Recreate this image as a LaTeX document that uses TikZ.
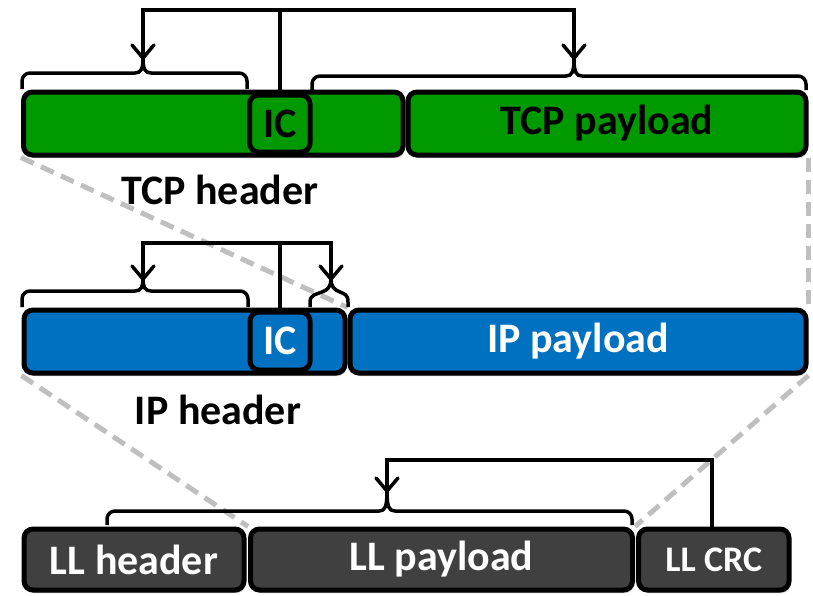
\documentclass[tikz,border=0pt]{standalone}
\usepackage{fontspec}
\setmainfont{Carlito}
\usetikzlibrary{arrows.meta,shadows}
\definecolor{tcpgreen}{HTML}{009900}
\definecolor{ipblue}{HTML}{0070C0}
\definecolor{lldark}{HTML}{404040}
\definecolor{dashgray}{HTML}{BFBFBF}
\pgfdeclarearrow{
  name = Vtip,
  parameters = {\the\pgfarrowlength,\the\pgfarrowwidth},
  setup code = {
    \pgfarrowssettipend{0pt}
    \pgfarrowssetlineend{-1pt}
    \pgfarrowssavethe\pgfarrowlength
    \pgfarrowssavethe\pgfarrowwidth
    \pgfarrowsupperhullpoint{-\pgfarrowlength}{.5\pgfarrowwidth}
    \pgfarrowshullpoint{0pt}{0pt}
  },
  drawing code = {
    \pgfsetroundjoin\pgfsetroundcap
    \pgfpathmoveto{\pgfqpoint{-\pgfarrowlength}{.5\pgfarrowwidth}}
    \pgfpathlineto{\pgfqpoint{0pt}{0pt}}
    \pgfpathlineto{\pgfqpoint{-\pgfarrowlength}{-.5\pgfarrowwidth}}
    \pgfusepathqstroke
  },
  defaults = {length = 12pt, width = 22pt}
}
\begin{document}
\begin{tikzpicture}[x=1pt,y=-1pt,
  seg/.style={draw=black, line width=5pt, rounded corners=9pt, inner sep=0pt,
    font=\fontsize{42}{46}\selectfont\bfseries,
    drop shadow={shadow xshift=1.5pt, shadow yshift=-3pt, opacity=0.25, fill=black}},
  tcpseg/.style={seg, fill=tcpgreen, text=black},
  ipseg/.style={seg, fill=ipblue, text=white},
  llseg/.style={seg, fill=lldark, text=white},
  brace/.style={draw=black, line width=3.5pt, line join=round},
  conn/.style={draw=black, line width=3.5pt},
  tipped/.style={conn, -{Vtip[length=13pt,width=22pt]}},
  guide/.style={draw=dashgray, line width=5pt, dash pattern=on 14pt off 8pt},
  caption/.style={font=\fontsize{42}{46}\selectfont\bfseries, text=black, inner sep=0pt}
]
\useasboundingbox (0,0) rectangle (813,595);

% segment boxes
\path
  node[tcpseg, minimum width=379.5pt, minimum height=63pt] (tcph) at (213.25,123.5) {}
  node[tcpseg, minimum width=398pt, minimum height=63pt] (tcpp) at (607,123.5) {TCP payload}
  node[ipseg, minimum width=321pt, minimum height=63pt] (iph) at (184.5,341.5) {}
  node[ipseg, minimum width=456pt, minimum height=63pt] (ipp) at (578,341.5) {IP payload}
  node[llseg, minimum width=220pt, minimum height=61pt] (llh) at (134,559.5) {LL header}
  node[llseg, minimum width=382pt, minimum height=61pt] (llp) at (441.5,559.5) {LL payload}
  node[llseg, minimum width=150.5pt, minimum height=61pt, font=\fontsize{36}{40}\selectfont\bfseries] (llc) at (713.75,559.5) {LL CRC};

\node[tcpseg, minimum width=60.5pt, minimum height=57pt] (tcpic) at (279.75,123.5) {IC};
\node[ipseg, minimum width=60pt, minimum height=58pt] (ipic) at (280,341) {IC};

% dashed guides
\draw[guide] (tcph.south west) -- (ipp.north west);
\draw[guide] (tcpp.south east) -- (ipp.north east);
\draw[guide] (iph.south west) -- (llp.north west);
\draw[guide] (ipp.south east) -- (llp.north east);

% captions
\node[caption] (tcpcap) at (220,190) {TCP header};
\node[caption] (ipcap) at (218,410) {IP header};

% braces
\draw[brace] (22,89) -- (22,81) to[out=90,in=180] (30,73) -- (135,73)
  .. controls (141,73) and (143,69) .. (143,58)
  .. controls (143,69) and (145,73) .. (151,73) -- (239,73)
  to[out=0,in=90] (247,81) -- (247,89);
\draw[brace] (312,90) -- (312,84) to[out=90,in=180] (320,76) -- (566,76)
  .. controls (572,76) and (574,72) .. (574,58)
  .. controls (574,72) and (576,76) .. (582,76) -- (798,76)
  to[out=0,in=90] (806,84) -- (806,90);

\draw[brace] (22,307) -- (22,299) to[out=90,in=180] (30,291) -- (135,291)
  .. controls (141,291) and (143,287) .. (143,279)
  .. controls (143,287) and (145,291) .. (151,291) -- (240,291)
  to[out=0,in=90] (248,299) -- (248,307);
\draw[brace] (310,307) -- (310,302) .. controls (310,294) and (318,294) .. (322,292)
  .. controls (328,290) and (331,286) .. (331,279)
  .. controls (331,286) and (334,290) .. (340,292)
  .. controls (344,294) and (348,294) .. (348,302) -- (348,307);

\draw[brace] (107,525) -- (107,519) to[out=90,in=180] (115,511) -- (379,511)
  .. controls (385,511) and (387,507) .. (387,491)
  .. controls (387,507) and (389,511) .. (395,511) -- (624,511)
  to[out=0,in=90] (632,519) -- (632,525);

% connectors
\coordinate (tcpTop) at (280,10);
\coordinate (tcpL) at (143,58);
\coordinate (tcpR) at (574,58);
\draw[tipped] (tcpic.north) -- (tcpic.north |- tcpTop) -| (tcpL);
\draw[tipped] (tcpic.north |- tcpTop) -| (tcpR);

\coordinate (ipTop) at (280,243);
\coordinate (ipL) at (143,279);
\coordinate (ipR) at (331,279);
\draw[tipped] (ipic.north) -- (ipic.north |- ipTop) -| (ipL);
\draw[tipped] (ipic.north |- ipTop) -| (ipR);

\coordinate (llTop) at (712,460);
\coordinate (llT) at (387,491);
\draw[tipped] (llc.north -| llTop) -- (llTop) -| (llT);
\end{tikzpicture}
\end{document}
